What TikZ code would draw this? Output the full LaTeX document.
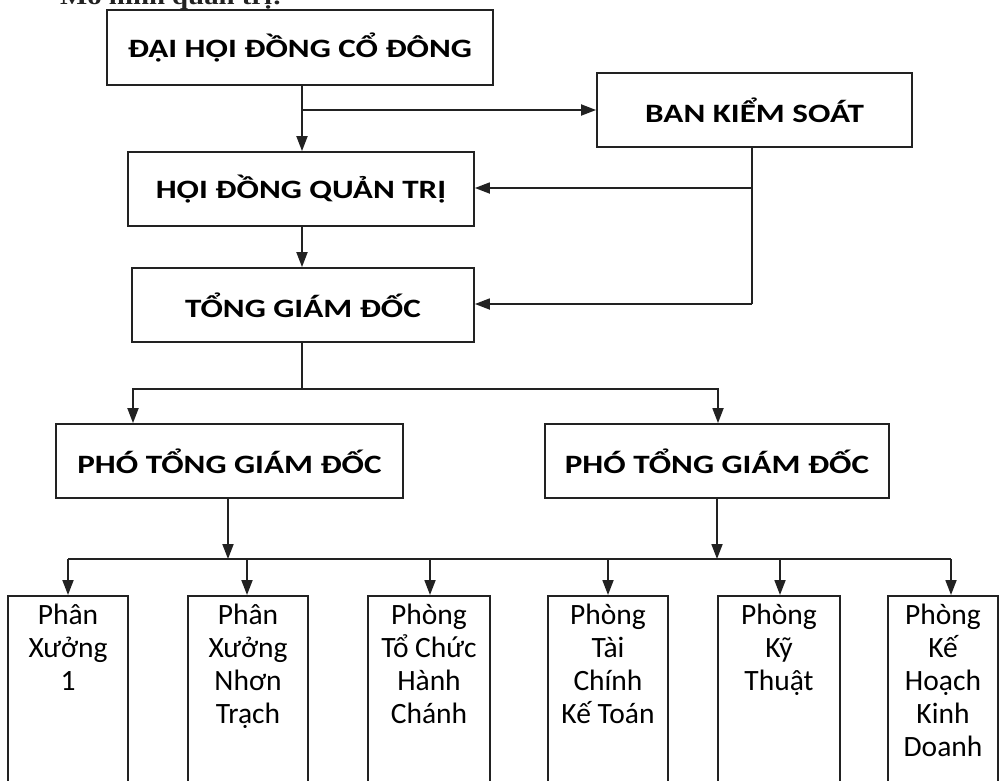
\documentclass[tikz,border=0pt]{standalone}
\usepackage{fontspec}
\usepackage{graphicx}
\setmainfont{Carlito}
\newfontfamily\titlefont{Liberation Serif}
\usetikzlibrary{arrows.meta}
\definecolor{ink}{HTML}{222222}
\tikzset{
  line/.style={line width=1.8pt, draw=ink},
  arr/.style={line, -{Triangle[length=15pt,width=11pt]}},
  hbox/.style={draw=ink, line width=1.8pt, inner sep=0pt, font=\fontsize{26.5}{30}\selectfont\bfseries},
  lbox/.style={draw=ink, line width=1.8pt, inner sep=0pt, anchor=north, font=\fontsize{29.5}{33}\selectfont}
}
\newcommand\hx[1]{\scalebox{1.25}[1]{#1}}
\newcommand\col[2]{\vbox to 200pt{\hsize=#1\baselineskip=33pt\parindent=0pt\centering\rule{0pt}{29pt}#2\par\vfil}}
\begin{document}
\begin{tikzpicture}[x=1pt,y=-1pt]
\clip (0,0) rectangle (1000,780);
\fill[white] (0,0) rectangle (1000,780);

\node[anchor=base west, inner sep=0pt, font=\titlefont\bfseries\fontsize{24}{28}\selectfont, text=ink] (title) at (60,4.5) {\scalebox{1.2}[1]{Mô hình quản trị:}};

\node[hbox, minimum width=386pt, minimum height=75pt] (dh) at (300,47.5) {\hx{ĐẠI HỘI ĐỒNG CỔ ĐÔNG}};
\node[hbox, minimum width=315pt, minimum height=74pt] (bks) at (754.5,110) {\hx{BAN KIỂM SOÁT}};
\node[hbox, minimum width=346pt, minimum height=74pt] (hdqt) at (301,189) {\hx{HỘI ĐỒNG QUẢN TRỊ}};
\node[hbox, minimum width=342pt, minimum height=74pt] (tgd) at (303,305) {\hx{TỔNG GIÁM ĐỐC}};
\node[hbox, minimum width=347pt, minimum height=74pt] (pho1) at (229.5,461) {\hx{PHÓ TỔNG GIÁM ĐỐC}};
\node[hbox, minimum width=344pt, minimum height=74pt] (pho2) at (717,461) {\hx{PHÓ TỔNG GIÁM ĐỐC}};

\node[lbox] (b1) at (68,595) {\col{120pt}{Phân\\Xưởng\\1}};
\node[lbox] (b2) at (248,595) {\col{120pt}{Phân\\Xưởng\\Nhơn\\Trạch}};
\node[lbox] (b3) at (429,595) {\col{122pt}{Phòng\\Tổ Chức\\Hành\\Chánh}};
\node[lbox] (b4) at (608,595) {\col{120pt}{Phòng\\Tài\\Chính\\Kế Toán}};
\node[lbox] (b5) at (779,595) {\col{122pt}{Phòng\\Kỹ\\Thuật}};
\node[lbox] (b6) at (943,595) {\col{110pt}{Phòng\\Kế\\Hoạch\\Kinh\\Doanh}};

% top part
\coordinate (j1) at (302,110);
\draw[arr] (dh.south -| j1) -- (hdqt.north -| j1);
\draw[arr] (j1) -- (bks.west |- j1);
\coordinate (r1) at (752,188);
\coordinate (r2) at (752,304);
\draw[line] (bks.south -| r1) -- (r2);
\draw[arr] (r1) -- (hdqt.east |- r1);
\draw[arr] (r2) -- (tgd.east |- r2);
\draw[arr] (hdqt.south -| j1) -- (tgd.north -| j1);

% to deputies
\coordinate (s) at (302,389);
\coordinate (sl) at (133,389);
\coordinate (sr) at (718,389);
\draw[line] (tgd.south -| s) -- (s);
\draw[arr] (s) -| (pho1.north -| sl);
\draw[arr] (s) -| (pho2.north -| sr);

% to departments
\coordinate (t1) at (228,559);
\coordinate (t2) at (717,559);
\draw[arr] (pho1.south -| t1) -- (t1);
\draw[arr] (pho2.south -| t2) -- (t2);
\coordinate (a1) at (68,559);
\coordinate (a2) at (247,559);
\coordinate (a3) at (430,559);
\coordinate (a4) at (608,559);
\coordinate (a5) at (780,559);
\coordinate (a6) at (951,559);
\draw[line] (a1) -- (a6);
\foreach \n in {1,...,6} \draw[arr] (a\n) -- (b\n.north -| a\n);
\end{tikzpicture}
\end{document}
